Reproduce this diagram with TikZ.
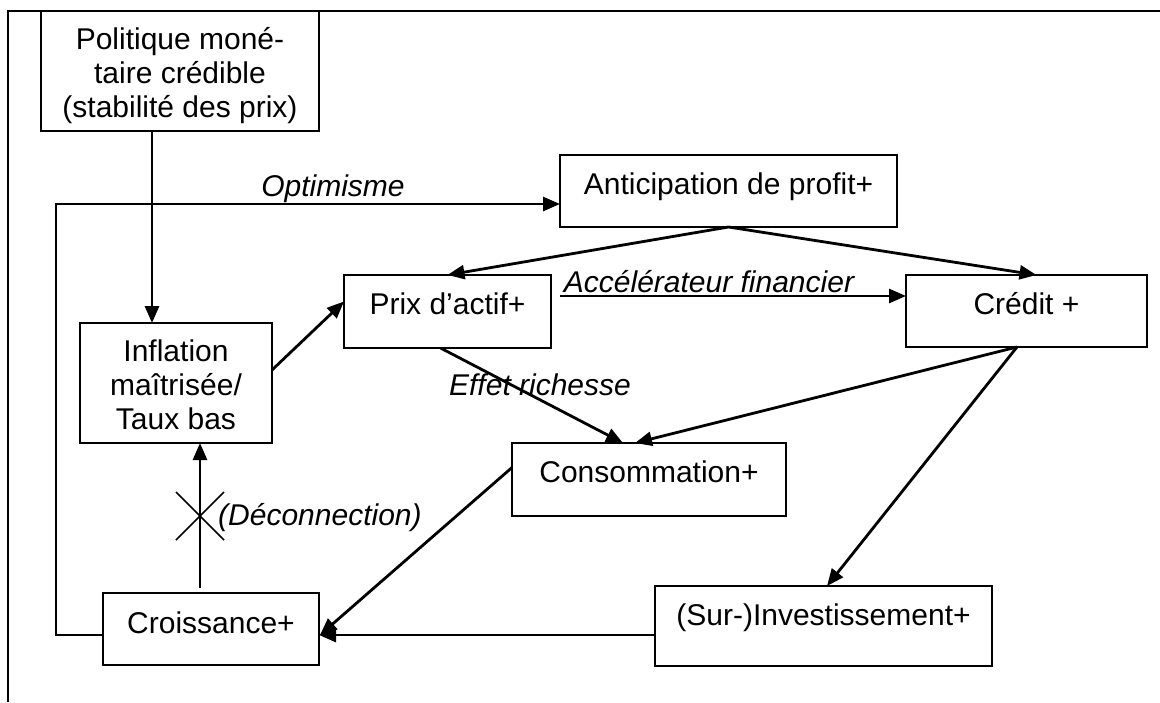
\documentclass[tikz,border=0pt]{standalone}
\usepackage{fontspec}
\setmainfont{Liberation Sans}
\usetikzlibrary{arrows.meta,calc}
\begin{document}
\begin{tikzpicture}[x=1pt,y=-1pt,
  box/.style={draw, line width=2.2pt, inner sep=0pt, outer sep=0pt, anchor=north west},
  txt/.style={inner sep=0pt, anchor=base, font=\fontsize{30}{34}\selectfont},
  lbl/.style={inner sep=0pt, anchor=base, font=\fontsize{30}{34}\selectfont\itshape},
  arr/.style={line width=2.8pt, -{Triangle[length=17pt,width=14pt]}},
  framel/.style={line width=2pt},
  crossl/.style={line width=1.5pt}]
\useasboundingbox (0,0) rectangle (1160,702);
\draw[framel] (8,702) -- (8,11) -- (1160,11);

% boxes
\node[box, minimum width=278pt, minimum height=120pt] (pol) at (41,11) {};
\node[box, minimum width=337pt, minimum height=72pt] (ant) at (560,155) {};
\node[box, minimum width=207pt, minimum height=73pt] (prix) at (344,275) {};
\node[box, minimum width=241pt, minimum height=72pt] (cre) at (906,275) {};
\node[box, minimum width=192pt, minimum height=120pt] (inf) at (80,323) {};
\node[box, minimum width=274pt, minimum height=73pt] (con) at (512,443) {};
\node[box, minimum width=216pt, minimum height=72pt] (cro) at (103,593) {};
\node[box, minimum width=337pt, minimum height=80pt] (inv) at (655,586) {};

% box texts
\node[txt] (polt) at ($(pol.north)+(0,38)$) {\begin{tabular}[t]{@{}c@{}}Politique moné-\\taire crédible\\(stabilité des prix)\end{tabular}};
\node[txt] (inft) at ($(inf.north)+(0,38)$) {\begin{tabular}[t]{@{}c@{}}Inflation\\maîtrisée/\\Taux bas\end{tabular}};
\node[txt] (antt) at ($(ant.north)+(0,39)$) {Anticipation de profit+};
\node[txt] (prixt) at ($(prix.north)+(0,39)$) {Prix d’actif+};
\node[txt] (cret) at ($(cre.north)+(0,39)$) {Crédit +};
\node[txt] (cont) at ($(con.north)+(0,39)$) {Consommation+};
\node[txt] (crot) at ($(cro.north)+(0,40)$) {Croissance+};
\node[txt] (invt) at ($(inv.north)+(0,39)$) {(Sur-)Investissement+};

% helper coordinates
\coordinate (xp) at (152,0);
\coordinate (xl) at (56,0);
\coordinate (xc) at (200,0);
\coordinate (yo) at (0,204);
\coordinate (ya) at (0,296);
\coordinate (yb) at (0,635);
\coordinate (cx) at (200,516);

% connectors
\draw[arr] (pol.south -| xp) -- (inf.north -| xp);
\draw[arr] (cro.west |- yb) -| (xl |- yo) -- (ant.west |- yo);
\draw[arr] (ant.south) -- (prix.north);
\draw[arr] (ant.south) -- ($(cre.north)+(10,0)$);
\draw[arr] ($(inf.east)+(0,-13)$) -- ($(prix.west)+(0,-10)$);
\draw[arr] ($(prix.east |- ya)+(9,0)$) -- (cre.west |- ya);
\draw[arr] ($(prix.south)+(-7,0)$) -- ($(con.north)+(-26,0)$);
\draw[arr] ($(cre.south)+(-9.5,0)$) -- ($(con.north)+(-14,0)$);
\draw[arr] ($(cre.south)+(-9.5,0)$) -- ($(inv.north)+(3.5,0)$);
\draw[arr] ($(con.west)+(0,-12)$) -- ($(cro.east)+(1,6)$);
\draw[arr] (inv.west |- yb) -- (cro.east |- yb);
\draw[arr] ($(cro.north -| xc)+(0,-5)$) -- (inf.south -| xc);
\draw[crossl] ($(cx)+(-24,-24)$) -- ($(cx)+(24,24)$) ($(cx)+(-24,24)$) -- ($(cx)+(24,-24)$);

% labels
\node[lbl] (optl) at (333,196) {Optimisme};
\node[lbl] (accl) at (709,292) {Accélérateur financier};
\node[lbl] (effl) at (540,395) {Effet richesse};
\node[lbl, anchor=base west] (decl) at (218,525) {(Déconnection)};
\end{tikzpicture}
\end{document}
